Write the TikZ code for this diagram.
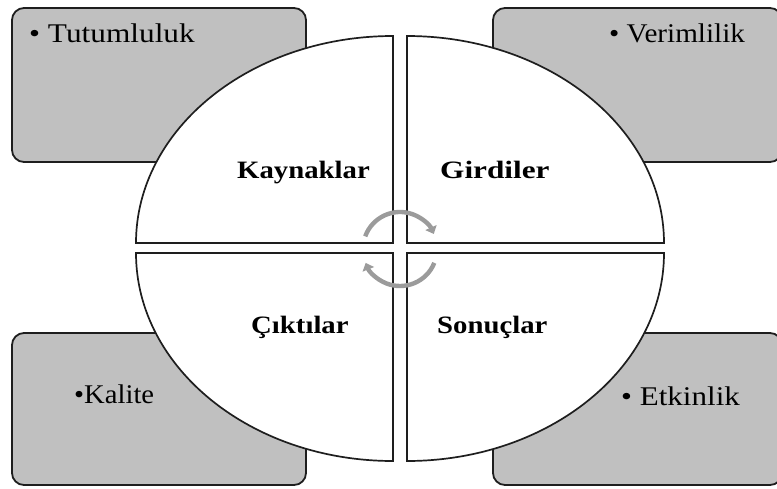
\documentclass[tikz,border=0pt]{standalone}
\usepackage{fontspec}
\setmainfont{Liberation Serif}
\usetikzlibrary{arrows.meta}
\definecolor{boxgray}{RGB}{192,192,192}
\definecolor{arrowgray}{RGB}{155,155,155}
\definecolor{edge}{RGB}{30,30,30}
\begin{document}
\begin{tikzpicture}[x=1pt,y=-1pt,
  sidebox/.style={draw=edge, line width=1.8pt, fill=boxgray, rounded corners=12pt},
  quad/.style={draw=edge, line width=1.7pt, fill=white},
  cyc/.style={draw=arrowgray, line width=4.4pt, -{Triangle[length=7pt,width=12pt]}},
  lbl/.style={font=\fontsize{25}{29}\selectfont\bfseries, anchor=base west, inner sep=0pt},
  item/.style={font=\fontsize{27}{31}\selectfont, anchor=base west, inner sep=0pt}]
\clip (0,0) rectangle (777,488);
% side boxes
\draw[sidebox] (12,8) rectangle (306,162);
\draw[sidebox] (493,8) rectangle (782,162);
\draw[sidebox] (12,333) rectangle (306,485);
\draw[sidebox] (493,333) rectangle (782,485);
% quadrants
\draw[quad] (393,243) -- (136,243) arc[start angle=180, end angle=270, x radius=257, y radius=207] -- cycle;
\draw[quad] (407,243) -- (407,36) arc[start angle=270, end angle=360, x radius=257, y radius=207] -- cycle;
\draw[quad] (407,253) -- (664,253) arc[start angle=0, end angle=90, x radius=257, y radius=208] -- cycle;
\draw[quad] (393,253) -- (393,461) arc[start angle=90, end angle=180, x radius=257, y radius=208] -- cycle;
% cycle arrows
\coordinate (c) at (400,249);
\draw[cyc] (c) ++(200:37) arc[start angle=200, end angle=336, radius=37];
\draw[cyc] (c) ++(22:37) arc[start angle=22, end angle=158, radius=37];
% labels
\node[lbl] (kay) at (237,178) {\scalebox{1.15}[1]{Kaynaklar}};
\node[lbl] (gir) at (440,178) {\scalebox{1.25}[1]{Girdiler}};
\node[lbl] (cik) at (251,333) {\scalebox{1.15}[1]{Çıktılar}};
\node[lbl] (son) at (437,333) {\scalebox{1.15}[1]{Sonuçlar}};
% items
\node[item] (tut) at (29,42) {\scalebox{1.16}[1]{• Tutumluluk}};
\node[item] (ver) at (609,42) {\scalebox{1.08}[1]{• Verimlilik}};
\node[item] (kal) at (74,403) {\scalebox{1.06}[1]{•Kalite}};
\node[item] (etk) at (621,405) {\scalebox{1.15}[1]{• Etkinlik}};
\end{tikzpicture}
\end{document}
